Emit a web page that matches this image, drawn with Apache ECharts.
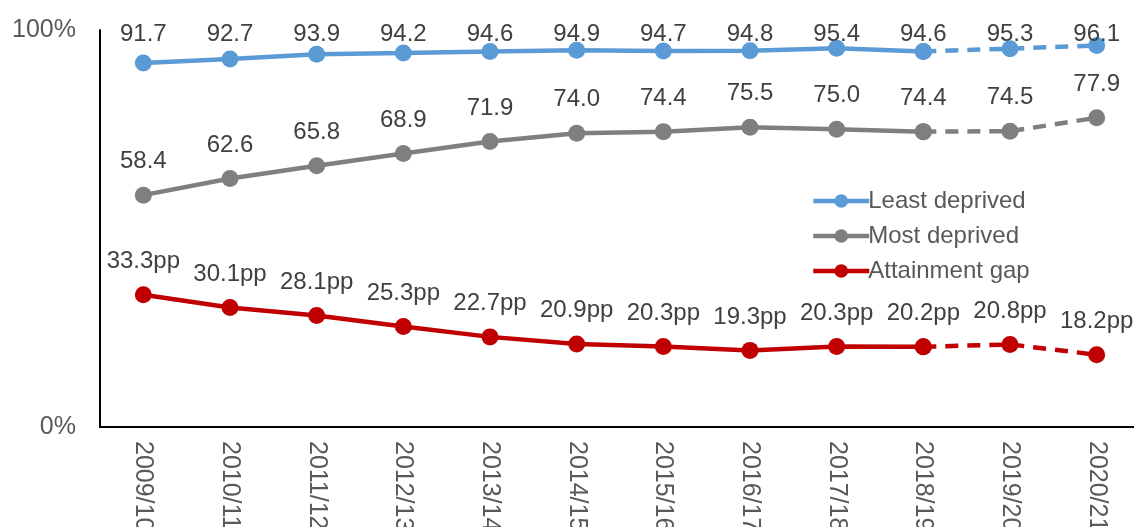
<!DOCTYPE html>
<html>
<head>
<meta charset="utf-8">
<script src="https://cdn.jsdelivr.net/npm/echarts@6/dist/echarts.min.js"></script>
<style>
  html, body { margin: 0; padding: 0; background: #fff; }
  #chart { width: 1134px; height: 527px; }
</style>
</head>
<body>
<div id="chart"></div>
<script>
// school years
var years = ['2009/10', '2010/11', '2011/12', '2012/13', '2013/14', '2014/15',
             '2015/16', '2016/17', '2017/18', '2018/19', '2019/20', '2020/21'];
var leastDeprived = [91.7, 92.7, 93.9, 94.2, 94.6, 94.9, 94.7, 94.8, 95.4, 94.6, 95.3, 96.1];
var mostDeprived  = [58.4, 62.6, 65.8, 68.9, 71.9, 74.0, 74.4, 75.5, 75.0, 74.4, 74.5, 77.9];
var attainmentGap = [33.3, 30.1, 28.1, 25.3, 22.7, 20.9, 20.3, 19.3, 20.3, 20.2, 20.8, 18.2];
var lastActual = 9; // from here on the line is dashed

function solidPart(arr) {
  return arr.map(function (v, i) { return i <= lastActual ? v : '-'; });
}
function dashedPart(arr) {
  return arr.map(function (v, i) { return i >= lastActual ? v : '-'; });
}

var chart = echarts.init(document.getElementById('chart'));

function makeSeries(name, arr, color, suffix, dist, layout) {
  var lbl = {
    show: true,
    position: 'top',
    distance: dist,
    fontFamily: 'Liberation Sans, Arial',
    fontSize: 24,
    color: '#404040'
  };
  var s = [
    {
      name: name,
      type: 'line',
      data: solidPart(arr),
      symbol: 'circle',
      symbolSize: 17,
      itemStyle: { color: color },
      lineStyle: { color: color, width: 4.5 },
      label: Object.assign({}, lbl, {
        formatter: function (p) { return p.value.toFixed(1) + suffix; }
      }),
      animation: false
    },
    {
      name: name + ' (dashed)',
      type: 'line',
      data: dashedPart(arr),
      symbol: 'circle',
      symbolSize: 17,
      itemStyle: { color: color },
      lineStyle: { color: color, width: 4.5, type: [13, 9] },
      label: Object.assign({}, lbl, {
        formatter: function (p) {
          return p.dataIndex > lastActual ? p.value.toFixed(1) + suffix : '';
        }
      }),
      animation: false
    }
  ];
  if (layout) {
    s[0].labelLayout = layout;
    s[1].labelLayout = layout;
  }
  return s;
}

var option = {
  backgroundColor: '#fff',
  textStyle: { fontFamily: 'Liberation Sans, Arial' },
  grid: { left: 100, top: 30, right: -6, bottom: 100, containLabel: false, outerBoundsMode: 'none' },
  legend: {
    data: ['Least deprived', 'Most deprived', 'Attainment gap'],
    orient: 'vertical',
    left: 806,
    top: 184,
    itemGap: 11,
    itemWidth: 56,
    itemHeight: 17,
    itemStyle: { borderWidth: 0 },
    lineStyle: { width: 4.5 },
    textStyle: { fontSize: 24, color: '#595959', padding: [0, 0, 0, -6] }
  },
  xAxis: {
    type: 'category',
    data: years,
    boundaryGap: true,
    axisLine: { lineStyle: { color: '#000', width: 2 } },
    axisTick: { show: false },
    axisLabel: {
      rotate: -90,
      margin: 14,
      fontSize: 25,
      color: '#595959',
      interval: 0
    }
  },
  yAxis: {
    type: 'value',
    min: 0,
    max: 100,
    interval: 100,
    splitLine: { show: false },
    axisLine: { show: true, lineStyle: { color: '#000', width: 2 } },
    axisTick: { show: false },
    axisLabel: {
      margin: 24,
      fontSize: 25,
      color: '#595959',
      formatter: '{value}%'
    }
  },
  series: [].concat(
    makeSeries('Least deprived', leastDeprived, '#5b9bd5', '', 12,
      { y: 34, align: 'center', verticalAlign: 'middle' }),
    makeSeries('Most deprived', mostDeprived, '#7f7f7f', '', 13),
    makeSeries('Attainment gap', attainmentGap, '#c00000', 'pp', 13)
  )
};

chart.setOption(option);
</script>
</body>
</html>
